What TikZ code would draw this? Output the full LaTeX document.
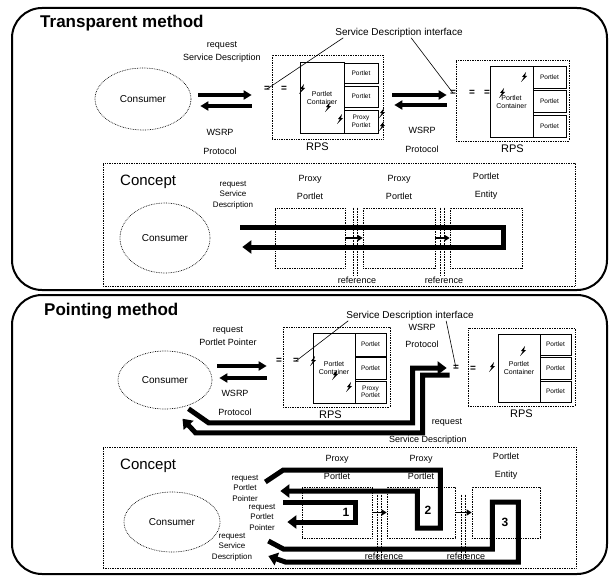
\documentclass[tikz,border=0pt]{standalone}
\usepackage{fontspec}
\setmainfont{Liberation Sans}
\usepackage{tikz}
\usetikzlibrary{positioning,shapes,arrows.meta}
\tikzstyle{panel}=[rectangle, draw=black, line width=2pt, rounded corners=30pt, inner sep=0pt]
\tikzstyle{heading}=[anchor=west, inner sep=0pt, font=\bfseries\fontsize{17}{20}\selectfont]
\tikzstyle{consumer}=[ellipse, draw=black, densely dotted, line width=0.7pt, inner sep=0pt,
        font=\fontsize{10}{12}\selectfont]
\tikzstyle{rps}=[rectangle, draw=black, densely dotted, line width=0.7pt, inner sep=0pt]
\tikzstyle{container}=[rectangle, draw=black, line width=0.6pt, inner sep=0pt, align=center,
        font=\fontsize{7}{8}\selectfont]
\tikzstyle{portlet}=[rectangle, draw=black, line width=0.6pt, inner sep=0pt, align=center,
        font=\fontsize{6.5}{7.5}\selectfont]
\tikzstyle{lbl}=[inner sep=0pt, align=center, font=\fontsize{9}{10}\selectfont]
\tikzstyle{smalltxt}=[inner sep=0pt, align=center, font=\fontsize{8}{10.5}\selectfont]
\tikzstyle{bigtxt}=[inner sep=0pt, font=\fontsize{11}{13}\selectfont]
\tikzstyle{conceptlbl}=[inner sep=0pt, anchor=west, font=\fontsize{15}{18}\selectfont]
\tikzstyle{numtxt}=[inner sep=0pt, font=\bfseries\fontsize{12}{14}\selectfont]
\tikzstyle{ifmark}=[inner sep=0pt, font=\bfseries\fontsize{10}{12}\selectfont]
\tikzstyle{fatarrow}=[->, >={Triangle[length=9pt,width=13pt]}, line width=5pt]
\tikzstyle{warrow}=[->, >={Triangle[length=8pt,width=9pt]}, line width=3.5pt]
\tikzstyle{smallarrow}=[->, >={Triangle[length=5pt,width=6pt]}, line width=1.5pt]
\tikzstyle{leader}=[line width=0.6pt]
\tikzstyle{refline}=[densely dotted, line width=0.6pt]
\tikzset{bolt/.pic={\fill (4,0) -- (0,5) -- (2,5) -- (-1,10) -- (5,4) -- (3,4) -- cycle;}}

\begin{document}
\begin{tikzpicture}[x=1pt, y=-1pt]
\useasboundingbox (0,0) rectangle (616,578);

% Transparent method
\node[panel, minimum width=595pt, minimum height=282pt] (toppanel) at (309.5,149) {};
\node[heading] (toptitle) at (40,23) {Transparent method};

\node[consumer, minimum width=96pt, minimum height=62pt] (cons1) at (143,99) {Consumer};
\node[lbl] (req1) at (222,52) {request\\[3pt]Service Description};
\node[lbl] (wsrp1) at (220,142) {WSRP\\[9pt]Protocol};

\node[rps, minimum width=111pt, minimum height=84pt] (rps1) at (327.5,97) {};
\node[container, minimum width=44pt, minimum height=71pt] (ctr1) at (322,97.5) {Portlet\\Container};
\node[portlet, minimum width=34pt, minimum height=20pt] (pt1a) at (361,73) {Portlet};
\node[portlet, minimum width=34pt, minimum height=21pt] (pt1b) at (361,96.5) {Portlet};
\node[portlet, minimum width=34pt, minimum height=23pt] (pt1c) at (361,121.5) {Proxy\\Portlet};
\node[bigtxt, below=3pt of rps1, xshift=-10pt] (rpsl1) {RPS};

\node[rps, minimum width=113pt, minimum height=81pt] (rps2) at (512.5,100.5) {};
\node[container, minimum width=43pt, minimum height=71pt] (ctr2) at (511.5,101.5) {Portlet\\Container};
\node[portlet, minimum width=33pt, minimum height=22pt] (pt2a) at (549.5,77) {Portlet};
\node[portlet, minimum width=33pt, minimum height=22pt] (pt2b) at (549.5,101) {Portlet};
\node[portlet, minimum width=33pt, minimum height=22pt] (pt2c) at (549.5,126) {Portlet};
\node[bigtxt, below=3pt of rps2] (rpsl2) {RPS};
\node[lbl] (wsrp2) at (422,140) {WSRP\\[9pt]Protocol};

\draw[warrow] ([shift={(7,-4)}]cons1.east) -- ([shift={(-20,-2)}]rps1.west);
\draw[warrow] ([shift={(-20,9)}]rps1.west) -- ([shift={(9,7)}]cons1.east);
\draw[warrow] ([shift={(9,-2)}]rps1.east) -- ([shift={(-9,-5.5)}]rps2.west);
\draw[warrow] ([shift={(-9,4.5)}]rps2.west) -- ([shift={(11,8)}]rps1.east);

\node[ifmark] (if1a) at (267,89) {=};
\node[ifmark] (if1b) at (284,89) {=};
\node[ifmark] (if2a) at (453,93) {=};
\node[ifmark] (if2b) at (472,93) {=};
\node[ifmark] (if2c) at (487,93) {=};
\pic at (300,84) {bolt};
\pic at (326,102) {bolt};
\pic at (338,114) {bolt};
\pic at (380,108) {bolt};
\pic at (380,121) {bolt};
\pic at (500,88) {bolt};
\pic at (522,72) {bolt};

\node[lbl, font=\fontsize{10}{12}\selectfont] (sdi1) at (399,33) {Service Description interface};
\draw[leader] ([xshift=8pt]sdi1.south west) -- (if1a.center);
\draw[leader] ([xshift=76pt]sdi1.south west) -- (if2a.center);

% concept of the transparent method
\node[rps, minimum width=472pt, minimum height=123pt] (conc1) at (339,224.5) {};
\node[conceptlbl] (concl1) at (120,182) {Concept};
\node[consumer, minimum width=90pt, minimum height=70pt] (ccons1) at (165,238) {Consumer};
\node[smalltxt] (creq1) at (233,195) {request\\Service\\Description};

\node[rps, minimum width=70pt, minimum height=60pt] (pp1) at (310,238) {};
\node[rps, minimum width=72pt, minimum height=60pt] (pp2) at (399,238) {};
\node[rps, minimum width=72pt, minimum height=60pt] (pe1) at (486,238) {};
\node[lbl, above=8pt of pp1] (pp1l) {Proxy\\[8pt]Portlet};
\node[lbl, above=8pt of pp2] (pp2l) {Proxy\\[8pt]Portlet};
\node[lbl, above=8pt of pe1] (pe1l) {Portlet\\[8pt]Entity};

\draw[refline] ([xshift=8pt]pp1.north east) -- ([xshift=8pt,yshift=-7pt]pp1.south east);
\draw[refline] ([xshift=12pt]pp1.north east) -- ([xshift=12pt,yshift=-7pt]pp1.south east);
\draw[refline] ([xshift=5pt]pp2.north east) -- ([xshift=5pt,yshift=-7pt]pp2.south east);
\draw[refline] ([xshift=9pt]pp2.north east) -- ([xshift=9pt,yshift=-7pt]pp2.south east);
\draw[smallarrow] (pp1.east) -- (pp2.west);
\draw[smallarrow] (pp2.east) -- (pe1.west);
\node[lbl] (ref1) at (357,280) {reference};
\node[lbl] (ref2) at (444,280) {reference};

\draw[fatarrow] ([shift={(30,-11)}]ccons1.east) -- ([shift={(-19,-11)}]pe1.east)
    -- ([shift={(-19,9)}]pe1.east) -- ([shift={(32,9)}]ccons1.east);

% Pointing method
\node[panel, minimum width=595pt, minimum height=279pt] (botpanel) at (309.5,434.5) {};
\node[heading] (bottitle) at (44,311) {Pointing method};

\node[consumer, minimum width=94pt, minimum height=58pt] (cons2) at (165,380) {Consumer};
\node[lbl] (req2) at (228,336) {request\\[3pt]Portlet Pointer};
\node[lbl] (wsrp3) at (235,403) {WSRP\\[9pt]Protocol};

\node[rps, minimum width=107pt, minimum height=80pt] (rps3) at (336.5,367) {};
\node[container, minimum width=42pt, minimum height=70pt] (ctr3) at (334,368) {Portlet\\Container};
\node[portlet, minimum width=31pt, minimum height=23pt] (pt3a) at (370.5,344.5) {Portlet};
\node[portlet, minimum width=31pt, minimum height=22pt] (pt3b) at (370.5,368.5) {Portlet};
\node[portlet, minimum width=31pt, minimum height=22pt] (pt3c) at (370.5,392) {Proxy\\Portlet};
\node[bigtxt, below=3pt of rps3, xshift=-6pt] (rpsl3) {RPS};

\node[rps, minimum width=107pt, minimum height=78pt] (rps4) at (521.5,367) {};
\node[container, minimum width=42pt, minimum height=68pt] (ctr4) at (519,368) {Portlet\\Container};
\node[portlet, minimum width=31pt, minimum height=21pt] (pt4a) at (555.5,344.5) {Portlet};
\node[portlet, minimum width=31pt, minimum height=22pt] (pt4b) at (555.5,368) {Portlet};
\node[portlet, minimum width=31pt, minimum height=21pt] (pt4c) at (555.5,391.5) {Portlet};
\node[bigtxt, below=3pt of rps4] (rpsl4) {RPS};
\node[lbl] (wsrp4) at (422,336) {WSRP\\[7pt]Protocol};

\draw[warrow] ([shift={(5,-14)}]cons2.east) -- ([shift={(-16,-1)}]rps3.west);
\draw[warrow] ([shift={(-16,11)}]rps3.west) -- ([shift={(7,-2)}]cons2.east);

\node[ifmark] (if3a) at (279,361) {=};
\node[ifmark] (if3b) at (296,361) {=};
\node[ifmark] (if4a) at (456,368) {=};
\node[ifmark] (if4b) at (473,369) {=};
\pic at (311,356) {bolt};
\pic at (333,370) {bolt};
\pic at (347,382) {bolt};
\pic at (490,362) {bolt};
\pic at (521,346) {bolt};

\node[lbl, font=\fontsize{10}{12}\selectfont] (sdi2) at (410,316) {Service Description interface};
\draw[leader] ([xshift=2pt]sdi2.south west) -- (if3b.center);
\draw[leader] ([xshift=100pt]sdi2.south west) -- (if4a.center);

\draw[fatarrow] ([shift={(-10,8)}]cons2.south east) -- ++(20,14)
    -| ([shift={(-55,1)}]rps4.west) -- ([shift={(-21,1)}]rps4.west);
\draw[fatarrow] ([shift={(-18,8)}]rps4.west) -- ([shift={(-45,8)}]rps4.west)
    |- ([shift={(-3,32)}]cons2.south east) -- ([shift={(-16,18)}]cons2.south east);
\node[lbl] (rsd1) at (447,423) {request};
\node[lbl] (rsd2) at (428,440) {Service Description};

% concept of the pointing method
\node[rps, minimum width=473pt, minimum height=121pt] (conc2) at (339.5,507.5) {};
\node[conceptlbl] (concl2) at (120,466) {Concept};
\node[consumer, minimum width=96pt, minimum height=60pt] (ccons2) at (172,522) {Consumer};

\node[rps, minimum width=70pt, minimum height=51pt] (pp3) at (337,512.5) {};
\node[rps, minimum width=68pt, minimum height=51pt] (pp4) at (421,512.5) {};
\node[rps, minimum width=68pt, minimum height=51pt] (pe2) at (506,512.5) {};
\node[lbl, above=7pt of pp3] (pp3l) {Proxy\\[8pt]Portlet};
\node[lbl, above=7pt of pp4] (pp4l) {Proxy\\[8pt]Portlet};
\node[lbl, above=7pt of pe2] (pe2l) {Portlet\\[8pt]Entity};

\draw[refline] ([shift={(5,-18)}]pp3.east) -- ([shift={(5,47)}]pp3.east);
\draw[refline] ([shift={(9,-18)}]pp3.east) -- ([shift={(9,47)}]pp3.east);
\draw[refline] ([shift={(6,-18)}]pp4.east) -- ([shift={(6,47)}]pp4.east);
\draw[refline] ([shift={(10,-18)}]pp4.east) -- ([shift={(10,47)}]pp4.east);
\draw[smallarrow] (pp3.east) -- (pp4.west);
\draw[smallarrow] (pp4.east) -- (pe2.west);

\draw[fatarrow] ([shift={(45,-40)}]ccons2.east) -- ([shift={(63,-52)}]ccons2.east)
    -- ([shift={(-15,-42.5)}]pp4.east) -- ([shift={(-15,15.5)}]pp4.east)
    -- ([shift={(-38,15.5)}]pp4.east) |- ([shift={(60,-31)}]ccons2.east);
\draw[fatarrow] ([shift={(63,-20)}]ccons2.east) -- ([shift={(-17,-10.5)}]pp3.east)
    -- ([shift={(-17,9.5)}]pp3.east) -- ([shift={(67,0)}]ccons2.east);
\draw[fatarrow] ([shift={(48,19)}]ccons2.east) -- ([shift={(63,27)}]ccons2.east)
    -| ([shift={(-48,-10.5)}]pe2.east) -| ([shift={(-22,49.5)}]pe2.east)
    -- ([shift={(65,40)}]ccons2.east) -- ([shift={(48,34)}]ccons2.east);

\node[numtxt] (n1) at (346,512) {1};
\node[numtxt] (n2) at (428,510) {2};
\node[numtxt] (n3) at (505,522) {3};

\node[smalltxt] (g1) at (245,488) {request\\Portlet\\Pointer};
\node[smalltxt] (g2) at (262,517) {request\\Portlet\\Pointer};
\node[smalltxt] (g3) at (232,547) {request\\Service\\Description};
\node[lbl] (ref3) at (384,556) {reference};
\node[lbl] (ref4) at (466,556) {reference};

\end{tikzpicture}
\end{document}
